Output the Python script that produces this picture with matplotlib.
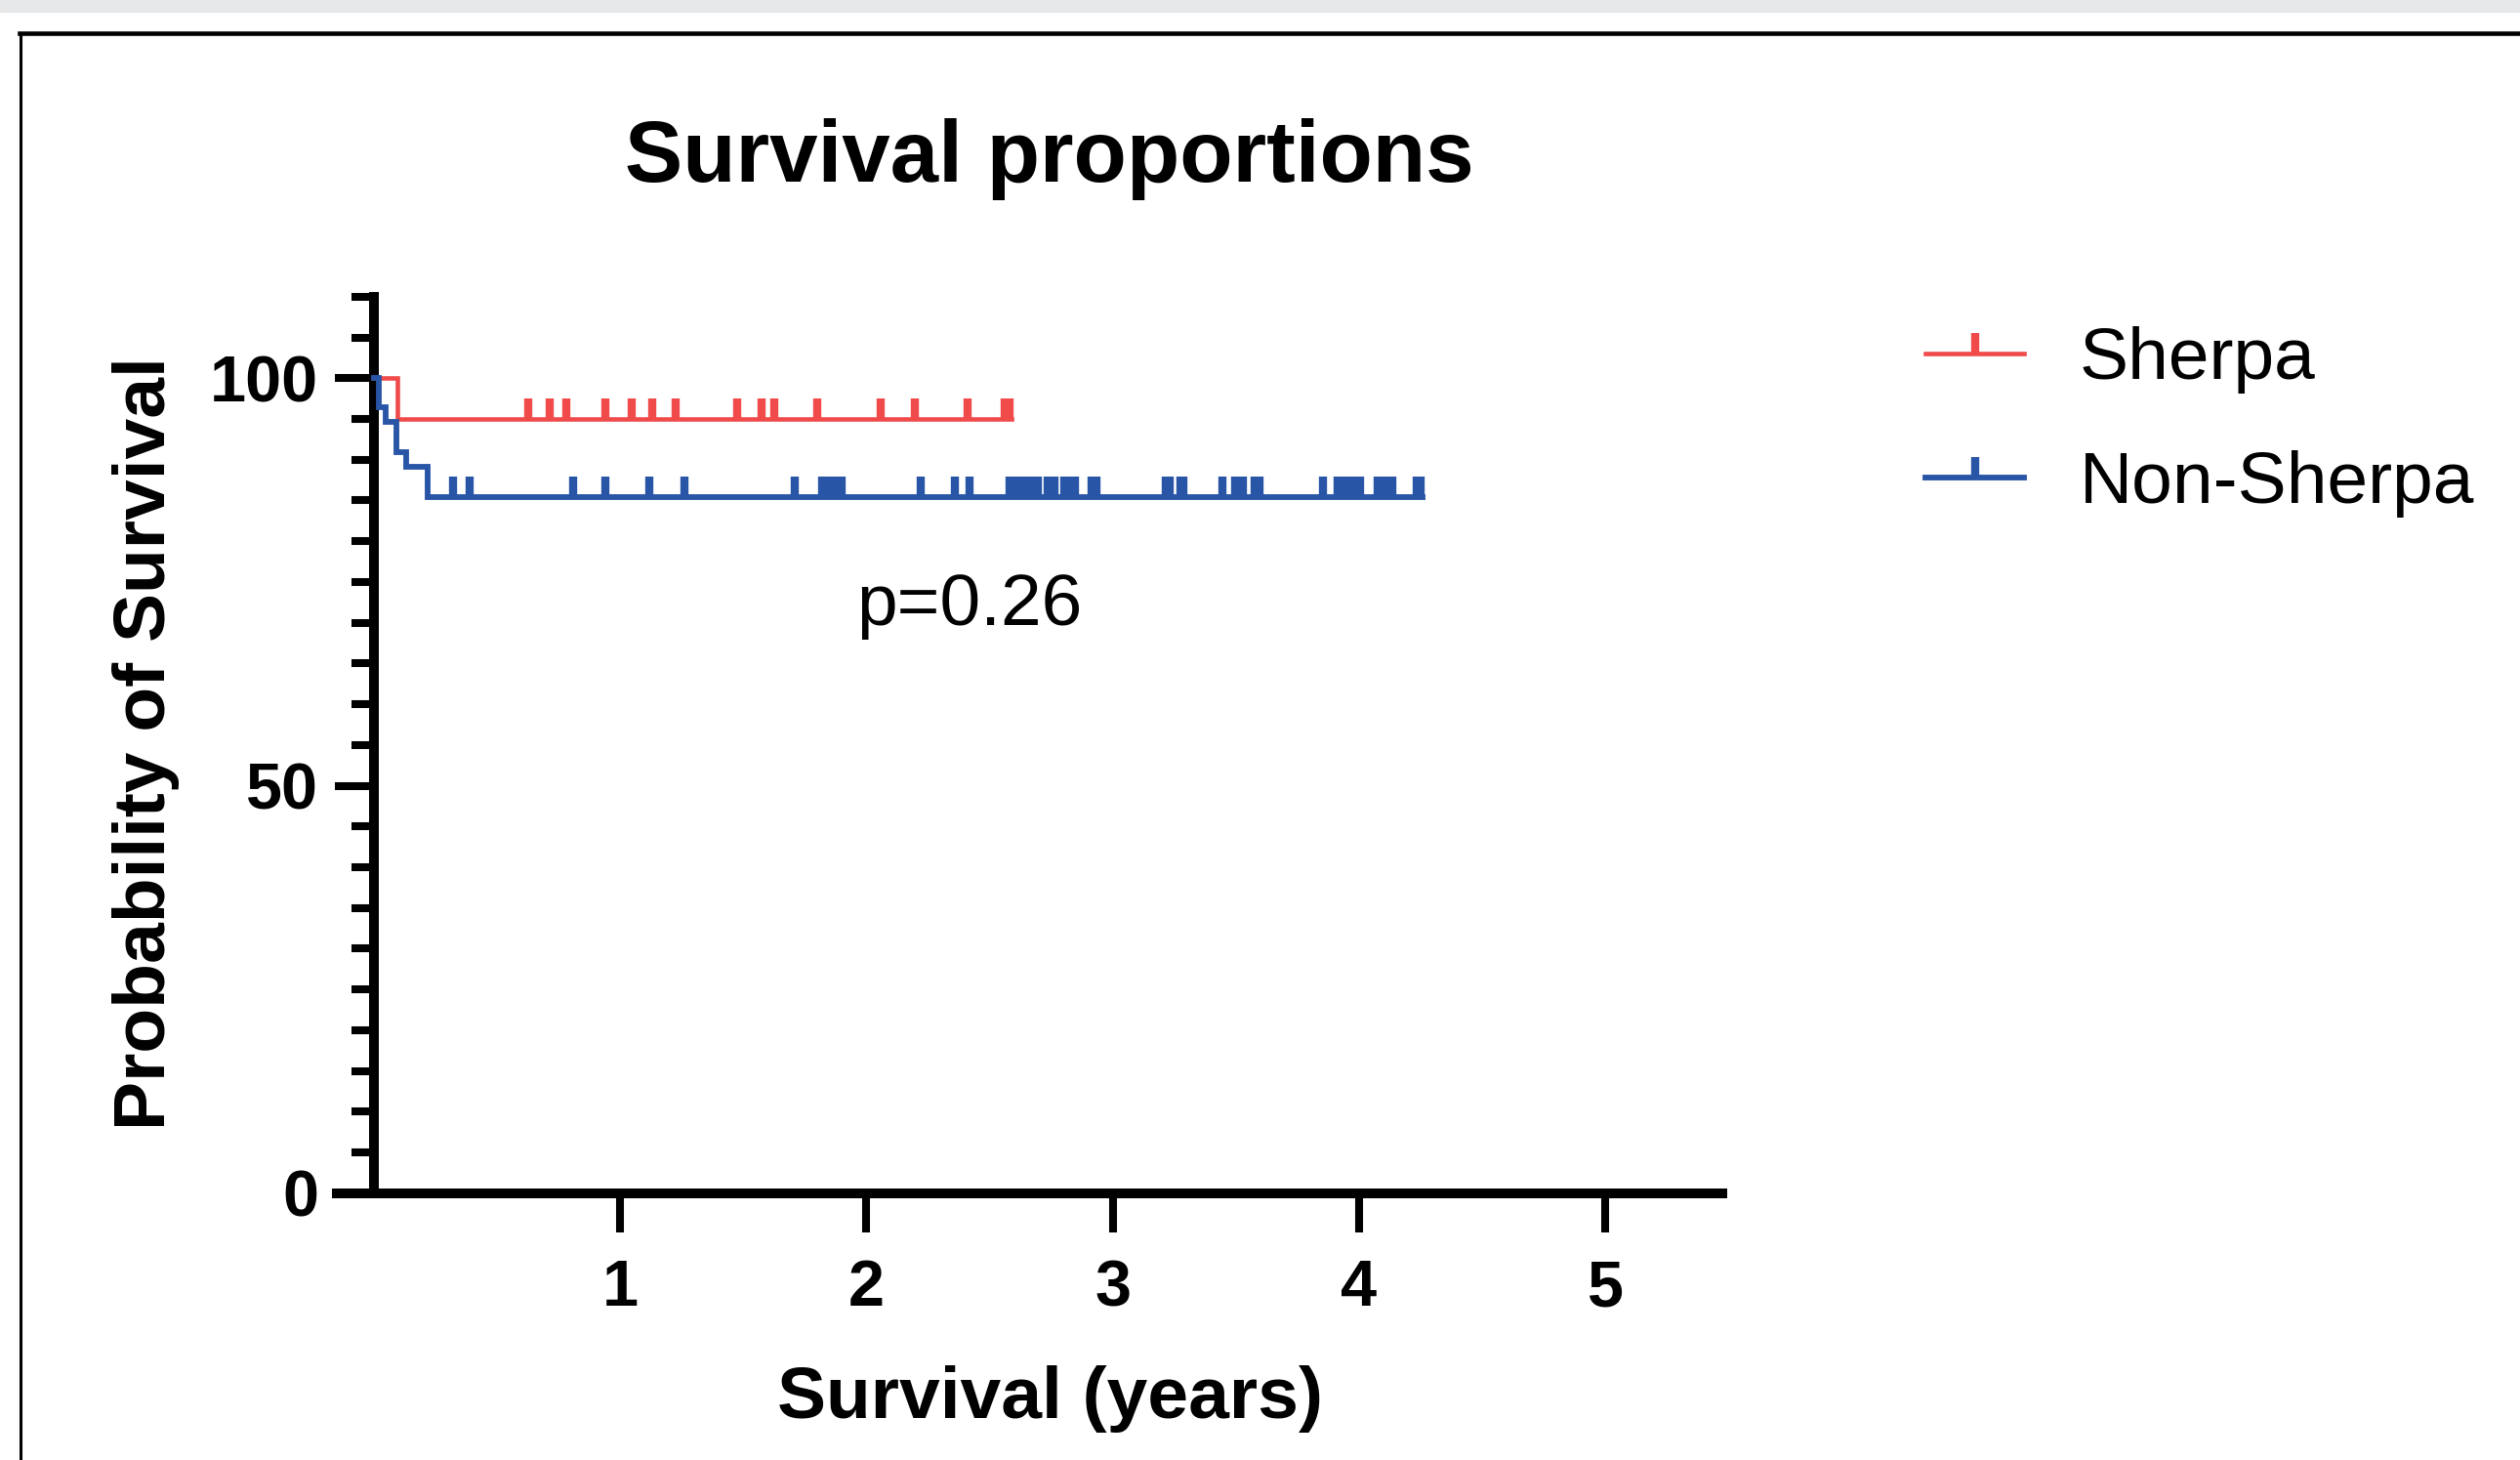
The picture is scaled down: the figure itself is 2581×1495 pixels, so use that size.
import numpy as np
import matplotlib
matplotlib.use('Agg')
import matplotlib.pyplot as plt
from matplotlib.lines import Line2D
from matplotlib.patches import Rectangle

plt.rcParams['font.family'] = ['Liberation Sans', 'DejaVu Sans']

# Kaplan-Meier steps (years, % surviving)
sherpa_t = [0.0, 0.094, 2.59]
sherpa_s = [100, 95, 95]
sherpa_cens = [0.625, 0.713, 0.781, 0.94, 1.049, 1.129, 1.227, 1.474, 1.575,
               1.625, 1.801, 2.058, 2.196, 2.412, 2.56, 2.58]

non_t = [0.0, 0.02, 0.05, 0.09, 0.13, 0.22, 4.26]
non_s = [100, 96.4, 94.6, 90.9, 89.1, 85.4, 85.4]
non_cens = [0.32, 0.39, 0.81, 0.94, 1.12, 1.26, 1.71, 1.82, 1.85, 1.88, 1.90,
            2.22, 2.36, 2.42, 2.58, 2.61, 2.64, 2.67, 2.695, 2.735, 2.765,
            2.805, 2.83, 2.845, 2.915, 2.935, 3.215, 3.23, 3.275, 3.285,
            3.445, 3.495, 3.53, 3.575, 3.595, 3.855, 3.915, 3.945, 3.975,
            4.005, 4.075, 4.105, 4.135, 4.235, 4.25]

groups = ['Sherpa', 'Non-Sherpa']
colori = ['#F04A4A', '#2855A6']
p_text = 'p=0.26'

W, H = 2581, 1495
fig = plt.figure(figsize=(W / 100, H / 100), dpi=100)

# screenshot chrome: grey band + frame of the box
fig.patches.append(Rectangle((0, 1 - 12.3 / H), 1, 12.3 / H, transform=fig.transFigure,
                             color='#E6E7E8', zorder=0))
fig.add_artist(Line2D([20 / W, 1], [1 - 34 / H, 1 - 34 / H], color='black', lw=3.3))
fig.add_artist(Line2D([21 / W, 21 / W], [0, 1 - 34 / H], color='black', lw=2.2))

ax = fig.add_axes([345 / W, (H - 1221.7) / H, (1764 - 345) / W, 917.8 / H])
ax.set_xlim(-0.15, 5.475)
ax.set_ylim(0, 110)

lw_sp = [3.3, 4.2]
for t, s, c, col, lw in zip([sherpa_t, non_t], [sherpa_s, non_s],
                            [sherpa_cens, non_cens], colori, lw_sp):
    ax.step(t, s, where='post', color=col, lw=lw, solid_joinstyle='miter', zorder=3)
    # censored marks sit on the flat part after the last drop
    yc = [s[np.searchsorted(t, x, side='right') - 1] for x in c]
    ax.plot(c, yc, ls='none', marker=2, ms=15, mew=6, color=col, zorder=3)

ax.text(1.96, 69.7, p_text, fontsize=54, ha='left', va='baseline')

for k in ['top', 'right']:
    ax.spines[k].set_visible(False)
ax.spines['left'].set_position(('data', 0))
ax.spines['left'].set_linewidth(7.2)
ax.spines['bottom'].set_linewidth(7.2)
ax.spines['left'].set_bounds(0, 110)

ax.set_xticks([1, 2, 3, 4, 5])
ax.set_yticks([0, 50, 100])
ax.set_yticks(np.arange(5, 110.1, 5), minor=True)
ax.tick_params(axis='y', which='major', length=28.8, width=5.8, pad=12,
               labelsize=48)
ax.tick_params(axis='y', which='minor', length=16.6, width=5.8)
ax.tick_params(axis='x', which='major', length=28.8, width=5.8, pad=20,
               labelsize=48)
for lab in ax.get_xticklabels() + ax.get_yticklabels():
    lab.set_fontweight('bold')

fig.text(1075 / W, 1 - 186 / H, 'Survival proportions', fontsize=64,
         fontweight='bold', ha='center', va='baseline')
fig.text(1076 / W, 1 - 1452 / H, 'Survival (years)', fontsize=54,
         fontweight='bold', ha='center', va='baseline')
fig.text(169 / W, 1 - 761 / H, 'Probability of Survival', fontsize=54,
         fontweight='bold', ha='center', va='baseline', rotation=90,
         rotation_mode='anchor')

handles = [Line2D([], [], color=col, lw=lw, marker=2, ms=15, mew=6)
           for col, lw in zip(colori, lw_sp)]
fig.legend(handles, groups, loc='upper left',
           bbox_to_anchor=(1972 / W, 1 - 334 / H), frameon=False, fontsize=54,
           borderpad=0, borderaxespad=0, handlelength=1.35, handletextpad=0.75,
           labelspacing=0.77, numpoints=1)

fig.savefig('out.png', dpi=100)
